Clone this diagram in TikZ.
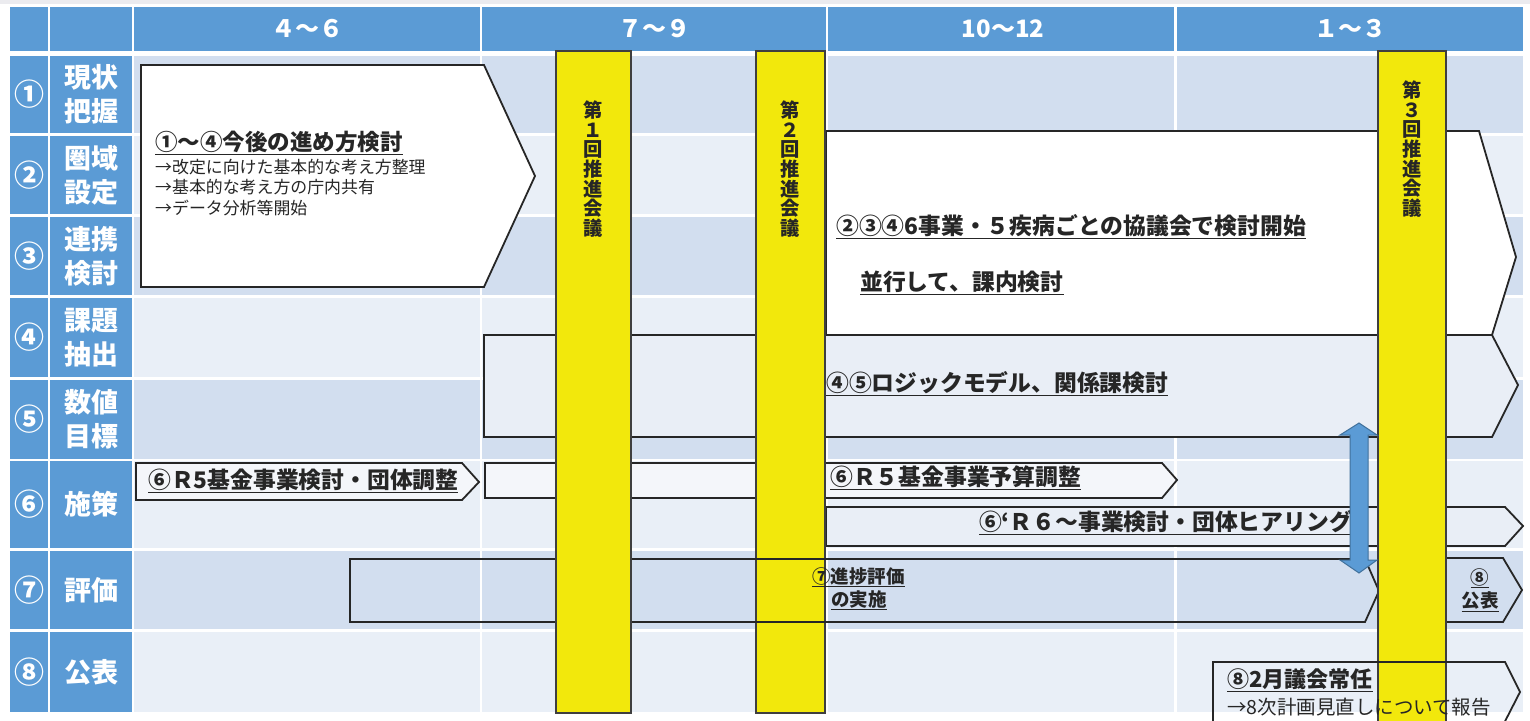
\documentclass[tikz,border=0pt]{standalone}
\usepackage{fontspec}
\setmainfont{Noto Sans CJK JP}
\usetikzlibrary{calc}

\definecolor{hdrblue}{HTML}{5B9BD5}
\definecolor{rowdark}{HTML}{D2DEEF}
\definecolor{rowlight}{HTML}{E9EFF7}
\definecolor{meetyellow}{HTML}{F2E80C}
\definecolor{meetline}{HTML}{3F3F3F}
\definecolor{taskline}{HTML}{262626}
\definecolor{taskpale}{HTML}{E9EEF6}
\definecolor{arrowedge}{HTML}{41719C}
\definecolor{topgray}{HTML}{EBEBEF}

\pgfkeys{
  /task/.cd,
  left/.initial=0,
  top/.initial=0,
  shoulder/.initial=100,
  tip/.initial=120,
  tip y/.initial=20,
  low shoulder/.initial=100,
  bottom/.initial=40,
  fill/.initial=white
}
\newcommand{\taskbox}[1][]{
    {
        \pgfkeys{/task/.cd,#1}
        \pgfkeys{/task/left/.get=\tbleft}
        \pgfkeys{/task/top/.get=\tbtop}
        \pgfkeys{/task/shoulder/.get=\tbshoulder}
        \pgfkeys{/task/tip/.get=\tbtip}
        \pgfkeys{/task/tip y/.get=\tbtipy}
        \pgfkeys{/task/low shoulder/.get=\tblow}
        \pgfkeys{/task/bottom/.get=\tbbottom}
        \pgfkeys{/task/fill/.get=\tbfill}
        \draw[draw=taskline,line width=1.8pt,line join=miter,fill=\tbfill]
            (\tbleft,\tbtop) -- (\tbshoulder,\tbtop) -- (\tbtip,\tbtipy)
            -- (\tblow,\tbbottom) -- (\tbleft,\tbbottom) -- cycle;
    }
}

\begin{document}
\begin{tikzpicture}[x=1pt,y=-1pt,
    hdr/.style={text=white,font=\bfseries\fontsize{24}{24}\selectfont,inner sep=0pt},
    side/.style={text=white,font=\bfseries\fontsize{27}{34}\selectfont,align=center,inner sep=0pt},
    sidenum/.style={text=white,font=\bfseries\fontsize{30}{30}\selectfont,inner sep=0pt},
    meeting/.style={draw=meetline,line width=1.6pt,fill=meetyellow},
    meettext/.style={text=black!85,font=\bfseries\fontsize{19.3}{19.7}\selectfont,align=center,inner sep=0pt},
    tasklabel/.style={text=black!85,font=\bfseries\fontsize{22.8}{22.8}\selectfont,inner sep=0pt,anchor=west},
    note/.style={text=black!85,font=\fontsize{16.9}{16.9}\selectfont,inner sep=0pt,anchor=west},
    evaltext/.style={text=black!85,font=\bfseries\fontsize{18.5}{18.5}\selectfont,inner sep=0pt,anchor=west},
    arrowbar/.style={fill=hdrblue,draw=arrowedge,line width=1pt,line join=miter}]

    \useasboundingbox (0,0) rectangle (1530,720);
    \fill[topgray] (0,0) rectangle (1530,4);

    % table
    \foreach \l/\r in {10/48,50/132,134/480,482/826,828/1174,1177/1523}
        \fill[hdrblue] (\l,7) rectangle (\r,51);
    \foreach \t/\b/\rowfill in {56/133/rowdark,136/214/rowlight,217/295/rowdark,298/377/rowlight,
                                380/459/rowdark,461/548/rowlight,551/629/rowdark,632/712/rowlight} {
        \fill[hdrblue] (10,\t) rectangle (48,\b);
        \fill[hdrblue] (50,\t) rectangle (132,\b);
        \foreach \l/\r in {134/480,482/826,828/1174,1177/1523}
            \fill[\rowfill] (\l,\t) rectangle (\r,\b);
    }

    \node[hdr] (q1) at (307,29) {４～６};
    \node[hdr] (q2) at (654,29) {７～９};
    \node[hdr] (q3) at (1003,29) {10～12};
    \node[hdr] (q4) at (1350,29) {１～３};

    \foreach \n/\lab/\y [count=\i] in {①/{現状\\把握}/94.5, ②/{圏域\\設定}/175, ③/{連携\\検討}/256,
                                         ④/{課題\\抽出}/337.5, ⑤/{数値\\目標}/419.5, ⑥/{施策}/504.5,
                                         ⑦/{評価}/590, ⑧/{公表}/672} {
        \node[sidenum] (num\i) at (29,\y) {\n};
        \node[side] (side\i) at (91,\y) {\lab};
    }

    % tasks
    \taskbox[left=141,top=65,shoulder=484,tip=535,tip y=176,low shoulder=484,bottom=287,fill=white]
    \node[tasklabel,font=\bfseries\fontsize{22.5}{22.5}\selectfont] (plan) at (155,143) {\underline{①～④今後の進め方検討}};
    \node[note] (plan1) at (155,167) {→改定に向けた基本的な考え方整理};
    \node[note] (plan2) at (155,187) {→基本的な考え方の庁内共有};
    \node[note] (plan3) at (155,208) {→データ分析等開始};

    \taskbox[left=826,top=131,shoulder=1479,tip=1516,tip y=257,low shoulder=1492,bottom=335,fill=white]
    \node[tasklabel] (council) at (836,227) {\underline{②③④6事業・５疾病ごとの協議会で検討開始}};
    \node[tasklabel] (inhouse) at (860,283) {\underline{並行して、課内検討}};

    \taskbox[left=484,top=335,shoulder=1492,tip=1518,tip y=385,low shoulder=1492,bottom=437,fill=taskpale]
    \node[tasklabel] (logic) at (826,384) {\underline{④⑤ロジックモデル、関係課検討}};

    \taskbox[left=136,top=463,shoulder=462,tip=479,tip y=482,low shoulder=462,bottom=500,fill=taskpale!50!white]
    \node[tasklabel] (fund) at (148,481) {\underline{⑥Ｒ5基金事業検討・団体調整}};
    \taskbox[left=485,top=463,shoulder=1162,tip=1177,tip y=480,low shoulder=1162,bottom=498,fill=taskpale!50!white]
    \node[tasklabel] (budget) at (830,478) {\underline{⑥Ｒ５基金事業予算調整}};
    \taskbox[left=826,top=507,shoulder=1505,tip=1523,tip y=526,low shoulder=1505,bottom=546,fill=taskpale]
    \node[tasklabel,anchor=east] (hearing) at (1352,523) {\underline{⑥‘Ｒ６～事業検討・団体ヒアリング}};

    \taskbox[left=1446,top=558,shoulder=1503,tip=1522,tip y=590,low shoulder=1503,bottom=622,fill=none]
    \node[evaltext,anchor=center,align=center,font=\bfseries\fontsize{18.5}{23}\selectfont] (pub) at (1480,590)
        {\underline{⑧}\\\underline{公表}};

    \node[tasklabel,font=\bfseries\fontsize{22}{22}\selectfont] (diet) at (1227,680) {\underline{⑧2月議会常任}};

    % meetings and evaluation
    \draw[meeting] (756,51) rectangle (825,713);
    \node[meettext] (meet2) at (790.5,169) {第\\２\\回\\推\\進\\会\\議};

    \taskbox[left=350,top=559,shoulder=1365,tip=1379,tip y=591,low shoulder=1365,bottom=622,fill=none]
    \node[evaltext] (eval1) at (812,577) {\underline{⑦進捗評価}};
    \node[evaltext] (eval2) at (831,600) {\underline{の実施}};

    \draw[meeting] (556,51) rectangle (631,713);
    \node[meettext] (meet1) at (593.5,169) {第\\１\\回\\推\\進\\会\\議};
    \draw[meeting] (1378,51) rectangle (1446,730);
    \node[meettext] (meet3) at (1412,149) {第\\３\\回\\推\\進\\会\\議};

    \taskbox[left=1213,top=662,shoulder=1505,tip=1520,tip y=692,low shoulder=1498,bottom=735,fill=none]
    \node[note,font=\fontsize{19.5}{19.5}\selectfont] (report) at (1227,707) {→8次計画見直しについて報告};

    % link between logic model and evaluation
    \coordinate (linktop) at (1359,423);
    \coordinate (linkbot) at (1359,573);
    \draw[arrowbar] (linktop) -- ($ (linktop) + (18,12) $) -- ($ (linktop) + (9,12) $)
        -- ($ (linkbot) + (9,-13) $) -- ($ (linkbot) + (18,-13) $) -- (linkbot)
        -- ($ (linkbot) + (-19,-13) $) -- ($ (linkbot) + (-9,-13) $)
        -- ($ (linktop) + (-9,12) $) -- ($ (linktop) + (-19,12) $) -- cycle;
\end{tikzpicture}
\end{document}
